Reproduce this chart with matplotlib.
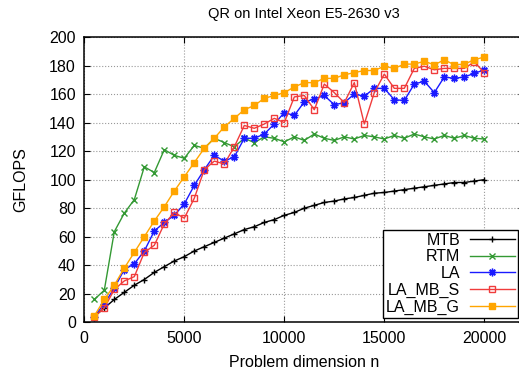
import matplotlib
matplotlib.use('Agg')
import matplotlib.pyplot as plt

plt.rcParams['font.family'] = ['Liberation Sans', 'DejaVu Sans']

# problem sizes n = 500 .. 20000
n = [500, 1000, 1500, 2000, 2500, 3000, 3500, 4000, 4500, 5000,
     5500, 6000, 6500, 7000, 7500, 8000, 8500, 9000, 9500, 10000,
     10500, 11000, 11500, 12000, 12500, 13000, 13500, 14000, 14500, 15000,
     15500, 16000, 16500, 17000, 17500, 18000, 18500, 19000, 19500, 20000]

mtb = [4, 10, 16, 21, 26, 30, 35, 39, 43, 46,
       50, 53, 56, 59, 62, 65, 67, 70, 72, 75,
       77, 80, 82, 84, 85, 86.5, 87.5, 89, 90.5, 91,
       92, 93, 94, 95, 96, 97, 98, 98, 99, 100]

rtm = [16, 22.5, 63.5, 76.5, 86, 109, 105, 121, 117, 115,
       124, 122, 129, 126, 123, 129, 126, 130, 129, 126.5,
       130, 127.5, 132, 129, 127.5, 130, 128.5, 131, 130, 128.5,
       131, 129, 132, 130, 128.5, 131, 129, 131, 129, 128.5]

la = [4, 13, 24, 37, 41, 50, 64, 70, 75, 83,
      96, 107, 117, 113, 116, 129, 129, 132, 139, 147,
      145, 154.5, 156.5, 159, 152.5, 154, 160, 158.5, 164, 164,
      156, 155.5, 167, 169, 161, 172, 171, 172, 174.5, 177]

la_mb_s = [4, 10, 23, 29, 32, 49, 54, 69, 77, 73,
           87, 107, 113, 111, 123, 138, 136, 139, 143, 140,
           158, 159, 149, 167, 161, 154, 168, 139, 161, 174,
           164, 164, 178, 179.5, 177, 178, 178, 178, 182.5, 175]

la_mb_g = [4.5, 16, 26, 38, 49, 60, 71, 81, 92, 102,
           112, 122, 129, 137, 143, 149, 152, 157, 159, 161,
           165, 168, 168, 171, 171, 173.5, 175, 176.5, 176.5, 179.5,
           178, 181, 181, 183, 180.5, 184, 180.5, 181, 184, 186]

fig = plt.figure(figsize=(5.19, 3.73), dpi=100)
ax = fig.add_axes([84.3/519, (373-322.3)/373, 440/519, (322.3-37)/373])

ax.plot(n, mtb, label='MTB', color='black', lw=1, marker='+', ms=4.5, mew=1)
ax.plot(n, rtm, label='RTM', color='#339933', lw=1, marker='x', ms=4, mew=1)
ax.plot(n, la, label='LA', color='#1a1aff', lw=1, marker=(8, 2, 0), ms=5.5, mew=1)
ax.plot(n, la_mb_s, label='LA_MB_S', color='#f03c3c', lw=1, marker='s', ms=4.5,
        mfc='none', mew=1)
ax.plot(n, la_mb_g, label='LA_MB_G', color='#ffa500', lw=1, marker='s', ms=4.5,
        mew=1)

ax.set_xlim(0, 22000)
ax.set_ylim(0, 200)
ax.set_xticks([0, 5000, 10000, 15000, 20000])
ax.set_yticks(range(0, 201, 20))
ax.tick_params(direction='in', length=4, top=True, right=True, labelsize=11.5, pad=6)
ax.grid(True, color='#999999', linestyle=':', linewidth=0.8)
for s in ax.spines.values():
    s.set_linewidth(1.1)

ax.set_title('QR on Intel Xeon E5-2630 v3', fontsize=10.5, pad=14)
ax.set_xlabel('Problem dimension n', fontsize=11.5, labelpad=7)
ax.set_ylabel('GFLOPS', fontsize=11.5, labelpad=15)

leg = ax.legend(loc='lower right', bbox_to_anchor=(517.7/519, (373-317.7)/373),
                bbox_transform=fig.transFigure, markerfirst=False, fontsize=11.5,
                fancybox=False, framealpha=1, edgecolor='black', borderpad=0.2,
                labelspacing=0.1, handlelength=2.8, handletextpad=0.6, borderaxespad=0)
leg.get_frame().set_linewidth(1)

fig.savefig('out.png', dpi=100)
